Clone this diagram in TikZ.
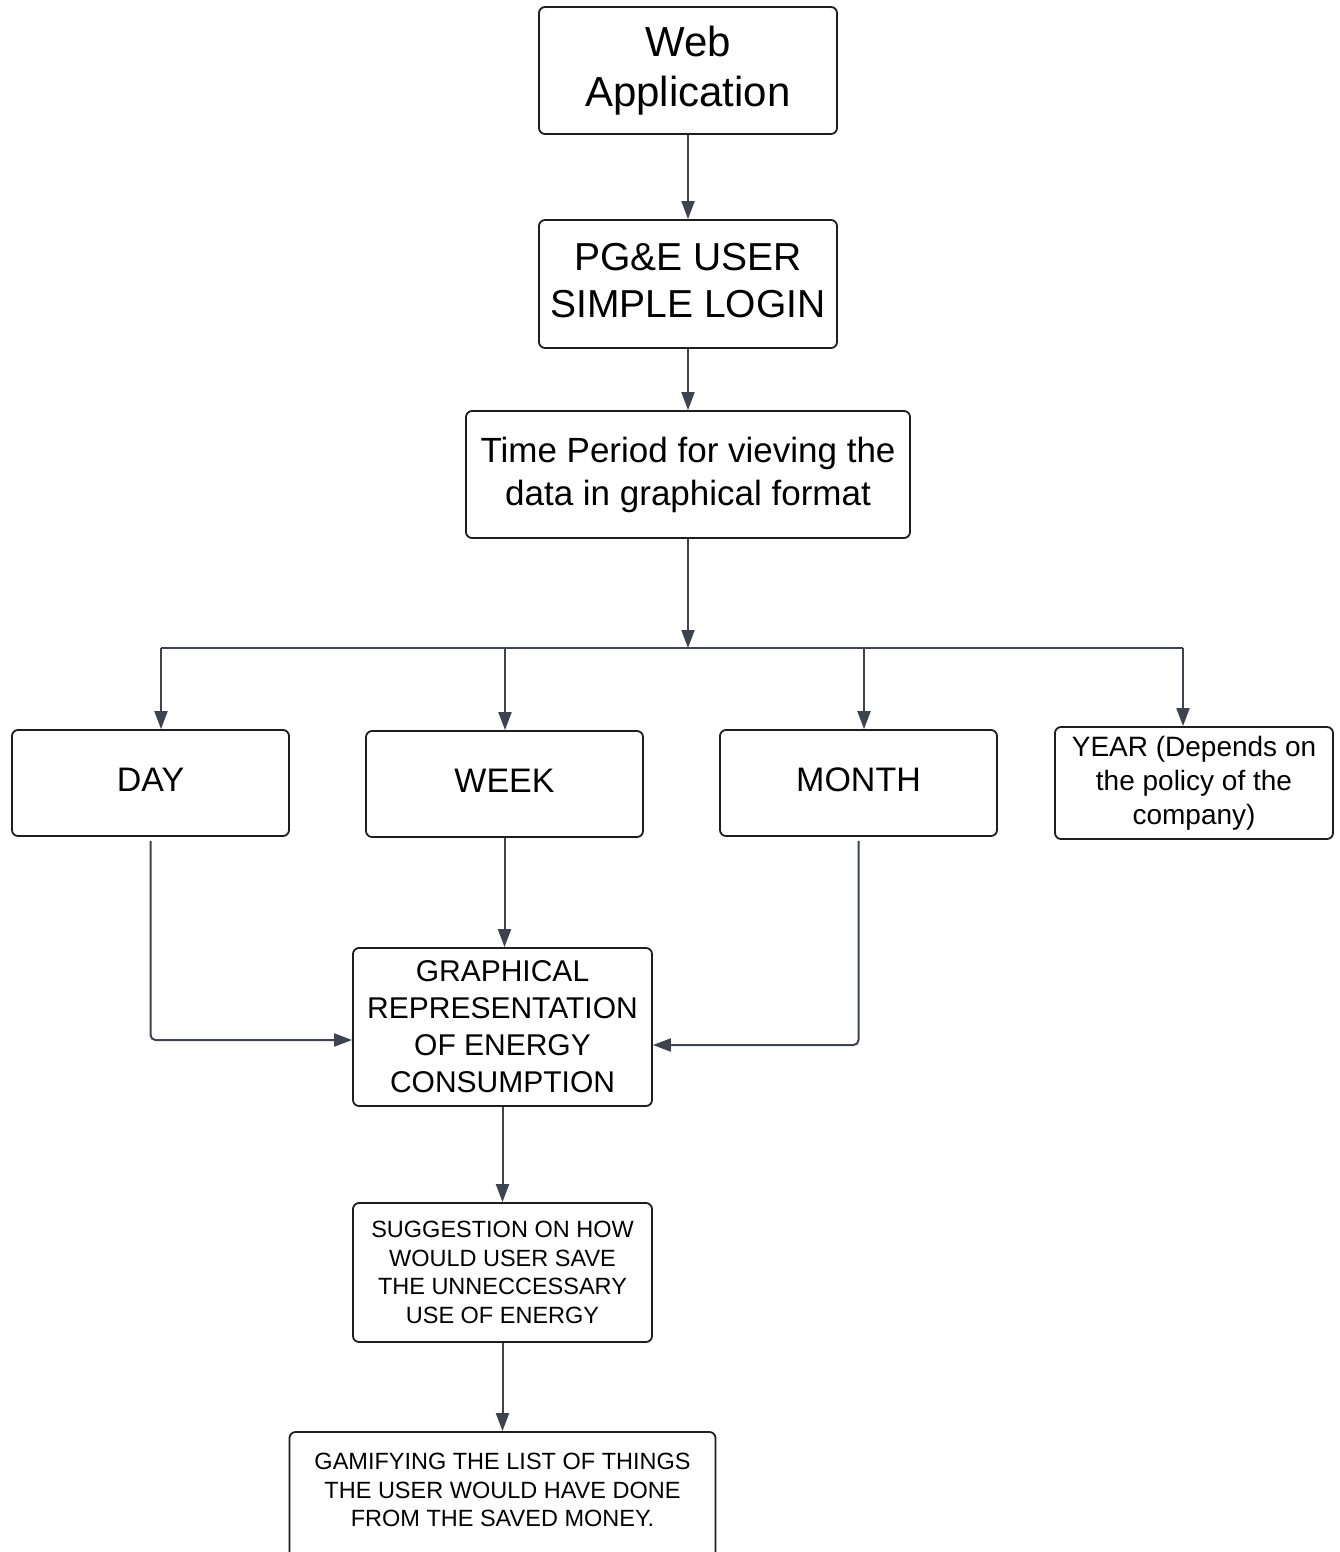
\documentclass[tikz,border=0pt]{standalone}
\usepackage{fontspec}
\setmainfont{Liberation Sans}
\usetikzlibrary{arrows.meta}
\definecolor{linecol}{HTML}{3D4450}
\definecolor{boxcol}{HTML}{1E1E1E}
\begin{document}
\begin{tikzpicture}[x=1pt,y=-1pt,
  box/.style={draw=boxcol, line width=1.8pt, rounded corners=6pt, align=center, inner sep=0pt, fill=white},
  conn/.style={draw=linecol, line width=2pt, -{Triangle[length=18pt,width=13pt]}},
  plain/.style={draw=linecol, line width=2pt}]
\useasboundingbox (0,0) rectangle (1340,1552);
\fill[white] (0,0) rectangle (1340,1552);

\node[box, minimum width=298pt, minimum height=127pt, font=\fontsize{42}{50}\selectfont] (web) at (688,70.5) {Web\\Application};
\node[box, minimum width=298pt, minimum height=128pt, font=\fontsize{39}{47}\selectfont] (login) at (688,284) {PG\&E USER\\SIMPLE LOGIN\rule[-8pt]{0pt}{1pt}};
\node[box, minimum width=444pt, minimum height=127pt, font=\fontsize{35}{43}\selectfont] (time) at (688,474.5) {Time Period for vieving the\\data in graphical format};

\node[box, minimum width=277pt, minimum height=106pt, font=\fontsize{34}{40}\selectfont] (day) at (150.5,783) {DAY\rule[-6pt]{0pt}{1pt}};
\node[box, minimum width=277pt, minimum height=106pt, font=\fontsize{34}{40}\selectfont] (week) at (504.5,784) {WEEK\rule[-6pt]{0pt}{1pt}};
\node[box, minimum width=277pt, minimum height=106pt, font=\fontsize{34}{40}\selectfont] (month) at (858.5,783) {MONTH\rule[-6pt]{0pt}{1pt}};
\node[box, minimum width=278pt, minimum height=112pt, font=\fontsize{28}{34}\selectfont] (year) at (1194,783) {YEAR (Depends on\\the policy of the\\company)};

\node[box, minimum width=299pt, minimum height=158pt, font=\fontsize{30}{37}\selectfont] (graph) at (502.5,1027) {GRAPHICAL\\REPRESENTATION\\OF ENERGY\\CONSUMPTION};
\node[box, minimum width=299pt, minimum height=139pt, font=\fontsize{23.5}{28.5}\selectfont] (sugg) at (502.5,1272.5) {SUGGESTION ON HOW\\WOULD USER SAVE\\THE UNNECCESSARY\\USE OF ENERGY};
\node[box, minimum width=426pt, minimum height=168pt] (game) at (502.5,1516) {};
\node[align=center, inner sep=0pt, font=\fontsize{23.5}{28.5}\selectfont] (gametext) at (502.5,1490) {GAMIFYING THE LIST OF THINGS\\THE USER WOULD HAVE DONE\\FROM THE SAVED MONEY.};

\coordinate (junc) at (688,648);
\coordinate (bl) at (161,648);
\coordinate (bw) at (505,648);
\coordinate (bm) at (864,648);
\coordinate (br) at (1183,648);

\draw[conn] (web.south) -- (login.north);
\draw[conn] (login.south) -- (time.north);
\draw[conn] (time.south) -- (junc);
\draw[plain] (bl) -- (br);
\draw[conn] (bl) -- (bl |- day.north);
\draw[conn] (bw) -- (bw |- week.north);
\draw[conn] (bm) -- (bm |- month.north);
\draw[conn] (br) -- (br |- year.north);

\draw[conn, rounded corners=5pt] ([yshift=-4pt]day.south) |- ([yshift=-13pt]graph.west);
\draw[conn] (week.south) -- (week.south |- graph.north);
\draw[conn, rounded corners=5pt] ([yshift=-4pt]month.south) |- ([yshift=-18pt]graph.east);
\draw[conn] (graph.south) -- (sugg.north);
\draw[conn] (sugg.south) -- (game.north);
\end{tikzpicture}
\end{document}
